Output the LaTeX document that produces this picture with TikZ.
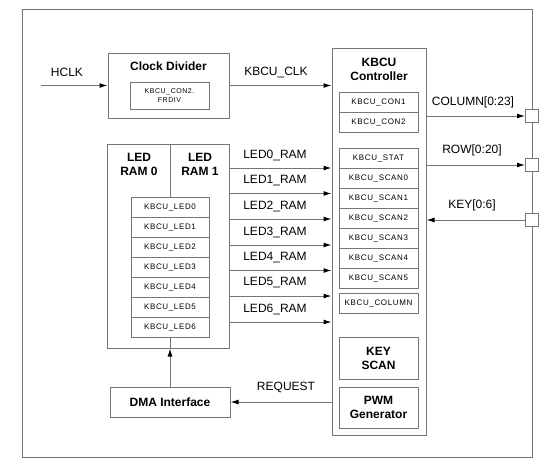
\documentclass[tikz,border=0pt]{standalone}
\usepackage{fontspec}
\setmainfont{Liberation Sans}
\newfontfamily\regfont[LetterSpace=8]{Liberation Sans}
\usetikzlibrary{arrows.meta}
\definecolor{linecol}{RGB}{118,118,118}
\tikzset{
  box/.style={draw=linecol, line width=1pt, inner sep=0pt, fill=white},
  reg/.style={box, minimum width=79pt, minimum height=20pt, font=\regfont\fontsize{8}{9}\selectfont},
  title/.style={font=\bfseries\fontsize{12}{14}\selectfont, align=center, inner sep=0pt},
  lab/.style={font=\fontsize{12}{14}\selectfont, inner sep=0pt},
  conn/.style={draw=linecol, line width=1pt, -{Latex[length=8pt,width=5pt,color=black]}},
  plain/.style={draw=linecol, line width=1pt},
  port/.style={box, minimum width=13pt, minimum height=13pt}
}
\begin{document}
\begin{tikzpicture}[x=1pt,y=-1pt]
\useasboundingbox (0,0) rectangle (554,469);
% outer frame
\node[box, fill=none, minimum width=510pt, minimum height=448pt] (frame) at (277,233) {};
% clock divider
\node[box, minimum width=121pt, minimum height=65pt] (clkdiv) at (168.5,85.5) {};
\node[title] (clkdivt) at (168.5,66) {Clock Divider};
\node[box, minimum width=79pt, minimum height=27pt, align=center, font=\regfont\fontsize{7}{9}\selectfont] (frdiv) at (169.5,95.5) {KBCU\_CON2.\\FRDIV};
\coordinate (hclk) at (41,85.5);
\draw[conn] (hclk) -- (clkdiv.west);
\node[lab] (hclkl) at (67,72) {HCLK};
% controller
\node[box, minimum width=94pt, minimum height=387pt] (ctrl) at (379,241.5) {};
\node[title] (ctrlt) at (379,69) {KBCU\\Controller};
\draw[conn] (clkdiv.east) -- (ctrl.west |- clkdiv.east);
\node[lab] (clkl) at (276,72) {KBCU\_CLK};
\node[reg] (con1) at (378.5,102) {KBCU\_CON1};
\node[reg] (con2) at (378.5,122) {KBCU\_CON2};
\node[reg] (stat) at (378.5,158) {KBCU\_STAT};
\node[reg] (scan0) at (378.5,178) {KBCU\_SCAN0};
\node[reg] (scan1) at (378.5,198) {KBCU\_SCAN1};
\node[reg] (scan2) at (378.5,218) {KBCU\_SCAN2};
\node[reg] (scan3) at (378.5,238) {KBCU\_SCAN3};
\node[reg] (scan4) at (378.5,258) {KBCU\_SCAN4};
\node[reg] (scan5) at (378.5,278) {KBCU\_SCAN5};
\node[reg] (column) at (378.5,303) {KBCU\_COLUMN};
\node[box, title, minimum width=79pt, minimum height=42pt] (keyscan) at (378.5,358) {KEY\\SCAN};
\node[box, title, minimum width=79pt, minimum height=41pt] (pwm) at (378.5,407.5) {PWM\\Generator};
% ports
\node[port] (pcol) at (532,116) {};
\node[port] (prow) at (532,165) {};
\node[port] (pkey) at (532,220) {};
\draw[conn] (ctrl.east |- pcol) -- (pcol.west);
\draw[conn] (ctrl.east |- prow) -- (prow.west);
\draw[conn] (pkey.west) -- (ctrl.east |- pkey);
\node[lab] (pcoll) at (473,102) {COLUMN[0:23]};
\node[lab] (prowl) at (472,150) {ROW[0:20]};
\node[lab] (pkeyl) at (472,205) {KEY[0:6]};
% LED RAM block
\node[box, minimum width=122pt, minimum height=204pt] (ledram) at (168,246) {};
\node[title] (ram0) at (139,164.5) {LED\\RAM 0};
\node[title] (ram1) at (200,164.5) {LED\\RAM 1};
\foreach \i in {0,...,6}{
  \node[reg, minimum width=78pt] (led\i) at (170,{207+20*\i}) {KBCU\_LED\i};
}
\draw[plain] (led0.north) -- (led0.north |- ledram.north);
\draw[plain] (led6.south) -- (led6.south |- ledram.south);
% LED arrows
\foreach \i/\y in {0/168,1/193.5,2/219,3/245,4/270.5,5/296,6/322}{
  \coordinate (ls\i) at (ledram.east |- 0,\y);
  \draw[conn] (ls\i) -- (ctrl.west |- ls\i);
  \node[lab] (ll\i) at (275,{\y-13}) {LED\i\_RAM};
}
% DMA
\node[box, title, minimum width=120pt, minimum height=30pt] (dma) at (170,402) {DMA Interface};
\draw[conn] (dma.north) -- (dma.north |- ledram.south);
\draw[conn] (ctrl.west |- dma.east) -- (dma.east);
\node[lab] (reql) at (286,387) {REQUEST};
\end{tikzpicture}
\end{document}
